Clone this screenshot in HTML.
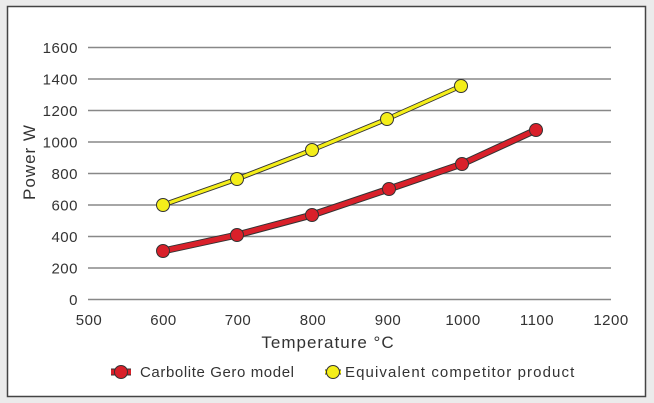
<!DOCTYPE html>
<html><head><meta charset="utf-8"><style>
html,body{margin:0;padding:0;background:#ebebeb;}
svg{display:block;}
text{font-family:"Liberation Sans",sans-serif;fill:#333;}
</style></head><body>
<svg width="654" height="403" viewBox="0 0 654 403" xmlns="http://www.w3.org/2000/svg">
<rect x="0" y="0" width="654" height="403" fill="#ebebeb"/>
<rect x="7.5" y="6.5" width="638" height="390" fill="#fff" stroke="#444" stroke-width="1.5"/>
<g stroke="#888" stroke-width="1.5">
<line x1="88" x2="611" y1="47.5" y2="47.5"/>
<line x1="88" x2="611" y1="79" y2="79"/>
<line x1="88" x2="611" y1="110.5" y2="110.5"/>
<line x1="88" x2="611" y1="142" y2="142"/>
<line x1="88" x2="611" y1="173.5" y2="173.5"/>
<line x1="88" x2="611" y1="205" y2="205"/>
<line x1="88" x2="611" y1="236.5" y2="236.5"/>
<line x1="88" x2="611" y1="268" y2="268"/>
<line x1="88" x2="611" y1="299.5" y2="299.5"/>
</g>
<g font-size="15" text-anchor="end" letter-spacing="0.5">
<text x="78" y="53">1600</text><text x="78" y="84.5">1400</text><text x="78" y="116">1200</text>
<text x="78" y="147.5">1000</text><text x="78" y="179">800</text><text x="78" y="210.5">600</text>
<text x="78" y="242">400</text><text x="78" y="273.5">200</text><text x="78" y="305">0</text>
</g>
<g font-size="15" text-anchor="middle" letter-spacing="0.5">
<text x="89" y="325">500</text><text x="163.5" y="325">600</text><text x="238" y="325">700</text>
<text x="313" y="325">800</text><text x="388" y="325">900</text><text x="463" y="325">1000</text>
<text x="537" y="325">1100</text><text x="611" y="325">1200</text>
</g>
<text x="328" y="348" font-size="17" text-anchor="middle" letter-spacing="1">Temperature °C</text>
<text transform="translate(35,162) rotate(-90)" font-size="17" text-anchor="middle" letter-spacing="1">Power W</text>
<polyline points="163,251 237,235 312,215 389,189 462,164 536,130" fill="none" stroke="#333" stroke-width="7" stroke-linejoin="round"/>
<polyline points="163,251 237,235 312,215 389,189 462,164 536,130" fill="none" stroke="#d9202a" stroke-width="5" stroke-linejoin="round"/>
<g fill="#d9202a" stroke="#333" stroke-width="1">
<circle cx="163" cy="251" r="6.5"/><circle cx="237" cy="235" r="6.5"/><circle cx="312" cy="215" r="6.5"/>
<circle cx="389" cy="189" r="6.5"/><circle cx="462" cy="164" r="6.5"/><circle cx="536" cy="130" r="6.5"/>
</g>
<polyline points="163,205 237,179 312,150 387,119 461,86" fill="none" stroke="#333" stroke-width="5" stroke-linejoin="round"/>
<polyline points="163,205 237,179 312,150 387,119 461,86" fill="none" stroke="#f4ee1a" stroke-width="3.2" stroke-linejoin="round"/>
<g fill="#f4ee1a" stroke="#333" stroke-width="1">
<circle cx="163" cy="205" r="6.5"/><circle cx="237" cy="179" r="6.5"/><circle cx="312" cy="150" r="6.5"/>
<circle cx="387" cy="119" r="6.5"/><circle cx="461" cy="86" r="6.5"/>
</g>
<line x1="111" x2="131" y1="372" y2="372" stroke="#333" stroke-width="7"/>
<line x1="111" x2="131" y1="372" y2="372" stroke="#d9202a" stroke-width="5"/>
<circle cx="121" cy="372" r="6.5" fill="#d9202a" stroke="#333" stroke-width="1"/>
<text x="140" y="377" font-size="15" letter-spacing="0.6">Carbolite Gero model</text>
<line x1="325" x2="341" y1="372" y2="372" stroke="#333" stroke-width="5"/>
<line x1="325" x2="341" y1="372" y2="372" stroke="#f4ee1a" stroke-width="3.2"/>
<circle cx="333" cy="372" r="6.5" fill="#f4ee1a" stroke="#333" stroke-width="1"/>
<text x="345" y="377" font-size="15" letter-spacing="1.1">Equivalent competitor product</text>
</svg>
</body></html>
